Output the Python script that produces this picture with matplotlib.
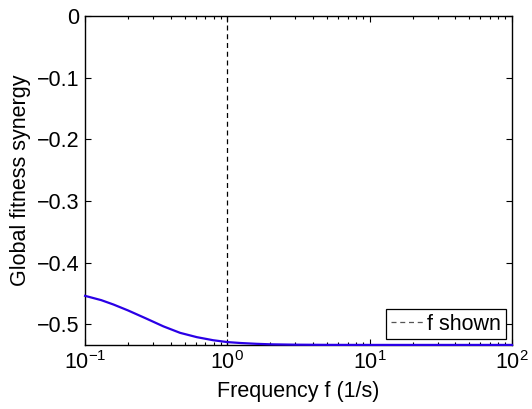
import numpy as np
import matplotlib
matplotlib.use("Agg")
import matplotlib.pyplot as plt

# values
freq = [0.1, 0.13, 0.158, 0.2, 0.27, 0.355, 0.465, 0.61, 0.795, 1.0,
        1.24, 1.6, 2.0, 3.0, 5.0, 10.0, 30.0, 100.0]
synergy = [-0.454, -0.461, -0.468, -0.4776, -0.491, -0.5035, -0.514, -0.521,
           -0.526, -0.529, -0.5305, -0.5318, -0.5326, -0.5332, -0.5335,
           -0.5336, -0.5336, -0.5336]
f_shown = 1.0
yticks = [0, -0.1, -0.2, -0.3, -0.4, -0.5]

plt.rcParams['font.family'] = ['Liberation Sans', 'DejaVu Sans']
plt.rcParams['mathtext.fontset'] = 'custom'
plt.rcParams['mathtext.rm'] = 'Liberation Sans'
plt.rcParams['mathtext.it'] = 'Liberation Sans:italic'
plt.rcParams['font.size'] = 15.5

fig = plt.figure(figsize=(5.32, 4.09), dpi=100)
ax = fig.add_axes([0.16, 0.1553, 0.8024, 0.8056])

ax.plot(freq, synergy, color='#2a00e6', lw=1.6, clip_on=False, zorder=3)
ax.axvline(f_shown, color='black', ls=(0, (4, 3)), lw=0.9, label='f shown')

ax.set_xscale('log')
ax.set_xlim(0.1, 100)
ax.set_ylim(-0.5345, 0)
ax.set_yticks(yticks)
ax.set_yticklabels(['0', '\u22120.1', '\u22120.2', '\u22120.3', '\u22120.4', '\u22120.5'])

ax.tick_params(which='both', direction='in', top=True, right=True, width=0.8)
ax.tick_params(axis='x', which='major', length=4, pad=4)
ax.tick_params(axis='y', which='major', length=4, pad=4)
ax.tick_params(which='minor', length=2.5)
for s in ax.spines.values():
    s.set_linewidth(1.0)

ax.set_xlabel('Frequency f (1/s)', labelpad=5)
ax.set_ylabel('Global fitness synergy', labelpad=4)

leg = ax.legend(loc='lower right', handlelength=1.5, handletextpad=0.2,
                borderpad=0.2, borderaxespad=0.3, fancybox=False,
                framealpha=1, edgecolor='black')
leg.get_frame().set_linewidth(0.9)
leg.get_lines()[0].set_color('#555555')

fig.savefig('out.png', dpi=100)
